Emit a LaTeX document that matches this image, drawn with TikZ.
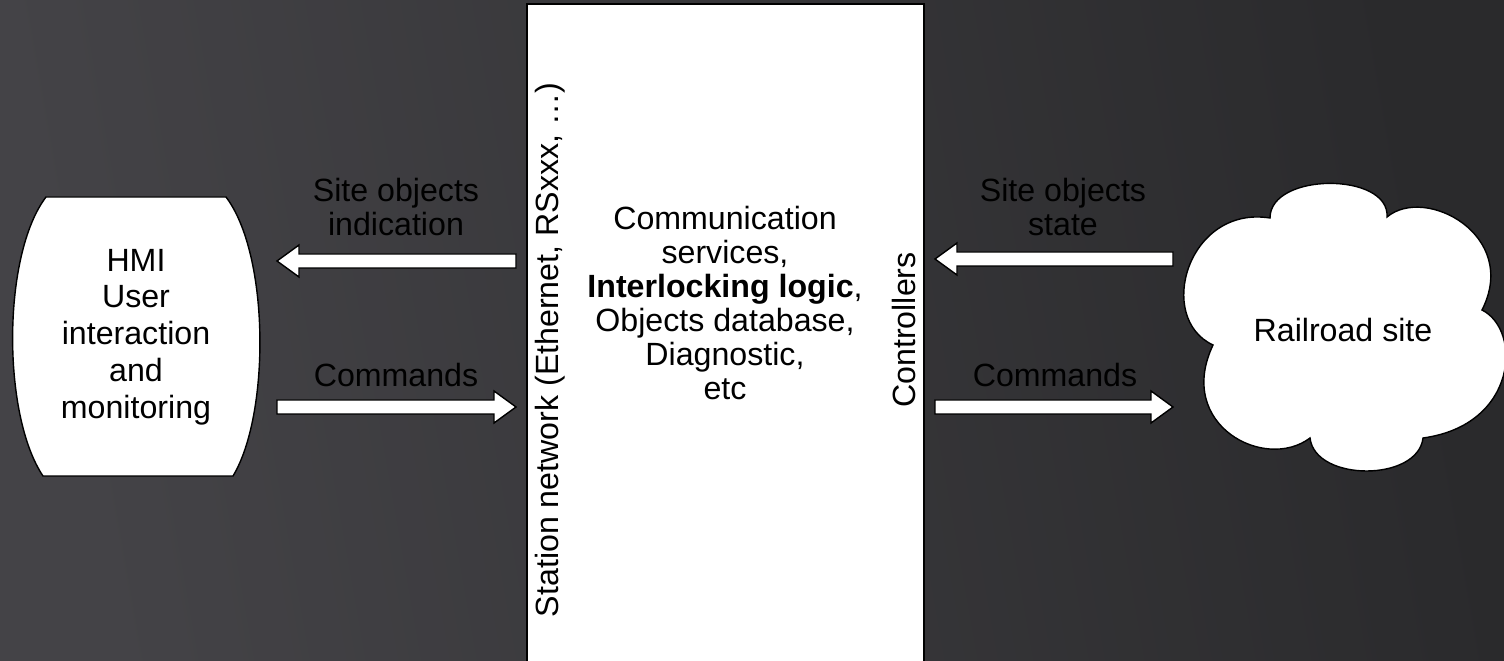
\documentclass[tikz,border=0pt]{standalone}
\usepackage{fontspec}
\setmainfont{Liberation Sans}
\definecolor{bgL}{RGB}{68,67,71}
\definecolor{bgR}{RGB}{42,42,44}
\newcommand\fs[1]{\fontsize{18.3}{#1\dimexpr 0.567pt\relax}\selectfont}
\tikzset{
  x=0.02cm, y=-0.02cm,
  shapefill/.style={fill=white, draw=black, line width=0.8pt},
  blk/.style={fill=white, draw=black, line width=0.8pt, line join=miter},
  lbl/.style={font=\fs{34}, text=black, align=center, inner sep=0pt},
}
\newcommand\blockarrow[4]{% tail x, tip x, head base x, y
  \draw[blk] (#1,#4-7) -- (#3,#4-7) -- (#3,#4-16) -- (#2,#4) -- (#3,#4+16) -- (#3,#4+7) -- (#1,#4+7) -- cycle;}
\begin{document}
\begin{tikzpicture}
\shade[left color=bgL, right color=bgR, shading angle=100] (0,0) rectangle (1504,661);
\useasboundingbox (0,0) rectangle (1504,661);

% central box
\draw[shapefill] (527,4) rectangle (924,670);
\node[lbl, rotate=90] (net) at (550,350) {Station network (Ethernet, RSxxx, \dots)};
\node[lbl, rotate=90] (ctrl) at (904,330) {Controllers};
\node[lbl] (core) at (725,303)
  {Communication\\services,\\\textbf{Interlocking logic},\\Objects database,\\Diagnostic,\\etc};

% HMI
\draw[shapefill] (46,197) -- (226,197) .. controls (270,255) and (270,415) .. (233,476)
  -- (43,476) .. controls (2,415) and (2,255) .. (46,197) -- cycle;
\node[lbl, font=\fs{37}] (hmi) at (136,337)
  {HMI\\User\\interaction\\and\\monitoring};

% cloud
\draw[shapefill] (1270,218)
  .. controls (1270,172) and (1390,172) .. (1387,217)
  .. controls (1425,185) and (1520,235) .. (1482,310)
  .. controls (1522,330) and (1518,425) .. (1423,438)
  .. controls (1418,482) and (1315,482) .. (1310,438)
  .. controls (1265,472) and (1175,425) .. (1213,345)
  .. controls (1155,318) and (1188,205) .. (1270,218) -- cycle;
\node[lbl] (site) at (1343,330) {Railroad site};

% arrows
\blockarrow{516}{277}{299}{261}
\blockarrow{277}{516}{494}{407}
\blockarrow{1173}{935}{957}{259}
\blockarrow{935}{1173}{1151}{407}

% labels
\node[lbl] (l1) at (396,207) {Site objects\\indication};
\node[lbl] (l2) at (396,375) {Commands};
\node[lbl] (l3) at (1063,207) {Site objects\\state};
\node[lbl] (l4) at (1055,375) {Commands};
\end{tikzpicture}
\end{document}
